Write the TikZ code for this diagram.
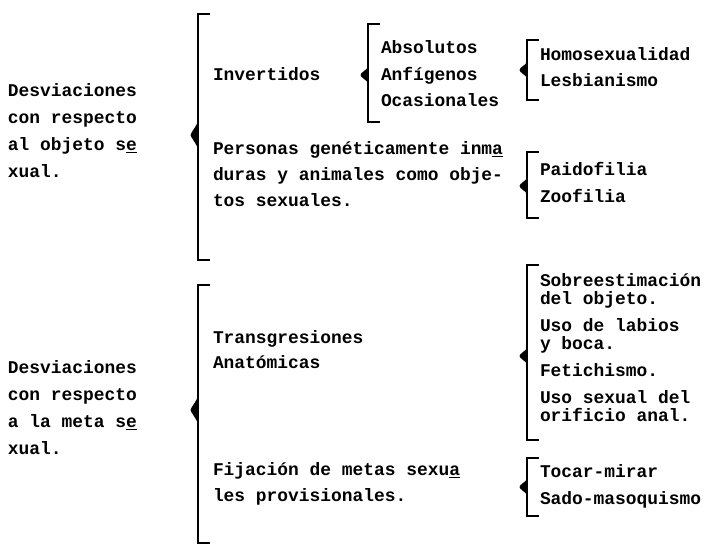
\documentclass[tikz,border=0pt]{standalone}
\usepackage{fontspec}
\setmainfont{Liberation Mono}
\tikzset{
  txt/.style={anchor=base west, inner sep=0pt, outer sep=0pt, font=\fontsize{17.9}{25}\selectfont\bfseries},
  brk/.style={line width=1.8pt, line cap=rect, line join=miter},
  brkpt/.style={fill=black, draw=none}
}
% #1 name, #2 x, #3 top, #4 bottom, #5 middle, #6 half-height of point
\newcommand{\mybrk}[6]{%
  \coordinate (#1-t) at (#2,#3);
  \coordinate (#1-b) at (#2,#4);
  \coordinate (#1-m) at (#2,#5);
  \draw[brk] ([xshift=11pt]#1-t) -- (#1-t) -- (#1-b) -- ([xshift=11pt]#1-b);
  \fill[brkpt] ([xshift=0.8pt,yshift=-#6pt]#1-m)
     .. controls ([xshift=-2pt,yshift=-0.45*#6pt]#1-m) and ([xshift=-7pt,yshift=-3pt]#1-m) .. ([xshift=-7.5pt]#1-m)
     .. controls ([xshift=-7pt,yshift=3pt]#1-m) and ([xshift=-2pt,yshift=0.45*#6pt]#1-m) .. ([xshift=0.8pt,yshift=#6pt]#1-m) -- cycle;
}
\newcommand{\myblock}[3]{%
  \foreach \yy/\tt [count=\ii] in {#3} {\node[txt] (#1-\ii) at (#2,\yy) {\tt};}
}
\begin{document}
\begin{tikzpicture}[x=1pt,y=-1pt]
\useasboundingbox (0,0) rectangle (705,553);
% left labels
\myblock{la}{8}{97/Desviaciones, 124/con respecto, 151/al objeto s\underline{e}, 178/xual.}
\myblock{lb}{8}{374/Desviaciones, 401/con respecto, 428/a la meta s\underline{e}, 455/xual.}
% brackets
\mybrk{B1}{198}{14}{260}{135}{16}
\mybrk{B2}{368}{24}{122}{75}{9}
\mybrk{B3}{527}{40}{100}{70}{9}
\mybrk{B4}{527}{152}{218}{186}{9}
\mybrk{B5}{198}{285}{543}{410}{16}
\mybrk{B6}{527}{265}{440}{356}{9}
\mybrk{B7}{527}{458}{516}{487}{9}
% middle column
\myblock{inv}{213}{81/Invertidos}
\myblock{per}{213}{155/Personas genéticamente inm\underline{a}, 181/duras y animales como obje-, 207/tos sexuales.}
\myblock{tra}{213}{344/Transgresiones, 369/Anatómicas}
\myblock{fij}{213}{476/Fijación de metas sexu\underline{a}, 502/les provisionales.}
% sub-columns
\myblock{abs}{381}{54/Absolutos, 81/Anfígenos, 107/Ocasionales}
\myblock{hom}{540}{61/Homosexualidad, 87/Lesbianismo}
\myblock{pai}{540}{176/Paidofilia, 203/Zoofilia}
\myblock{sob}{540}{287/Sobreestimación, 305/del objeto., 332/Uso de labios, 350/y boca., 377/Fetichismo., 404/Uso sexual del, 422/orificio anal.}
\myblock{toc}{540}{478/Tocar-mirar, 505/Sado-masoquismo}
\end{tikzpicture}
\end{document}
